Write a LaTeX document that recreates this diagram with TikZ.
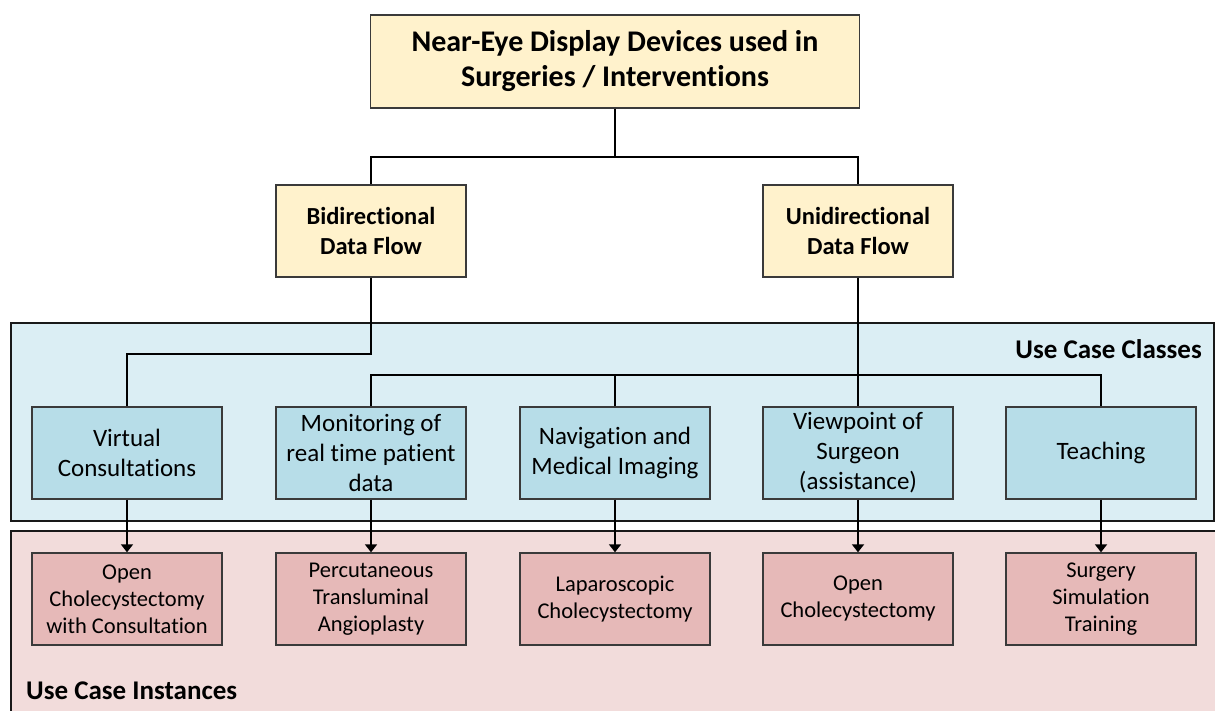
\documentclass[tikz,border=0pt]{standalone}
\usepackage{fontspec}
\setmainfont{Carlito}[Ligatures={NoCommon}]
\usetikzlibrary{arrows.meta}
\definecolor{headfill}{HTML}{FFF2CC}
\definecolor{classpanel}{HTML}{DBEEF4}
\definecolor{classfill}{HTML}{B7DDE8}
\definecolor{instpanel}{HTML}{F2DCDB}
\definecolor{instfill}{HTML}{E6B9B8}
\definecolor{edge}{HTML}{3A3A3A}
\tikzset{
  box/.style={draw=edge, line width=1.4pt, minimum width=190pt, minimum height=92pt,
    inner sep=0pt, align=center, text=black},
  headbox/.style={box, fill=headfill, font=\fontsize{24.5}{30}\selectfont\bfseries},
  classbox/.style={box, fill=classfill, font=\fontsize{25}{30}\selectfont},
  instbox/.style={box, fill=instfill, font=\fontsize{22.5}{27}\selectfont},
  panel/.style={draw=black!90, line width=1.5pt},
  link/.style={draw=black, line width=1.8pt},
  arr/.style={link, -{Triangle[width=12pt,length=8pt]}},
  paneltitle/.style={font=\fontsize{27}{30}\selectfont\bfseries, inner sep=0pt}
}
\begin{document}
\begin{tikzpicture}[x=1pt,y=-1pt]
\useasboundingbox (0,0) rectangle (1215,711);
\clip (0,0) rectangle (1215,711);

% background panels
\draw[panel, fill=classpanel] (11,323) rectangle (1214,521);
\draw[panel, fill=instpanel] (11,531) rectangle (1240,740);
\node[paneltitle, anchor=east] (classes) at (1202,349) {Use Case Classes};
\node[paneltitle, anchor=west] (instances) at (26,691) {Use Case Instances};

% root and data flow boxes
\node[headbox, minimum width=489pt, minimum height=93pt,
      font=\fontsize{30}{35}\selectfont\bfseries] (root) at (615,61.5)
      {Near-Eye Display Devices used in\\Surgeries / Interventions};
\node[headbox] (bidi) at (371,231) {Bidirectional\\Data Flow};
\node[headbox] (uni) at (858,231) {Unidirectional\\Data Flow};

% use case classes
\node[classbox] (vc) at (127,453) {Virtual\\Consultations};
\node[classbox] (mon) at (371,453) {Monitoring of\\real time patient\\data};
\node[classbox] (nav) at (615,453) {Navigation and\\Medical Imaging};
\node[classbox] (vp) at (858,453) {Viewpoint of\\Surgeon\\(assistance)};
\node[classbox] (teach) at (1101,453) {Teaching};

% use case instances
\node[instbox] (i1) at (127,599) {Open\\Cholecystectomy\\with Consultation};
\node[instbox] (i2) at (371,599) {Percutaneous\\Transluminal\\Angioplasty};
\node[instbox] (i3) at (615,599) {Laparoscopic\\Cholecystectomy};
\node[instbox] (i4) at (858,599) {Open\\Cholecystectomy};
\node[instbox] (i5) at (1101,599) {Surgery\\Simulation\\Training};

% tree connectors
\coordinate (split) at (root.south |- 0,158);
\draw[link] (root.south) -- (split);
\draw[link] (bidi.north) -- ++(0,-27) -| (uni.north);
\draw[link] (bidi.south) -- ++(0,76) -| (vc.north);
\draw[link] (uni.south) -- (vp.north);
\draw[link] (mon.north) -- ++(0,-31) -| (teach.north);
\draw[link] (nav.north) -- ++(0,-31);

% class to instance arrows
\draw[arr] (vc.south) -- (i1.north);
\draw[arr] (mon.south) -- (i2.north);
\draw[arr] (nav.south) -- (i3.north);
\draw[arr] (vp.south) -- (i4.north);
\draw[arr] (teach.south) -- (i5.north);
\end{tikzpicture}
\end{document}
